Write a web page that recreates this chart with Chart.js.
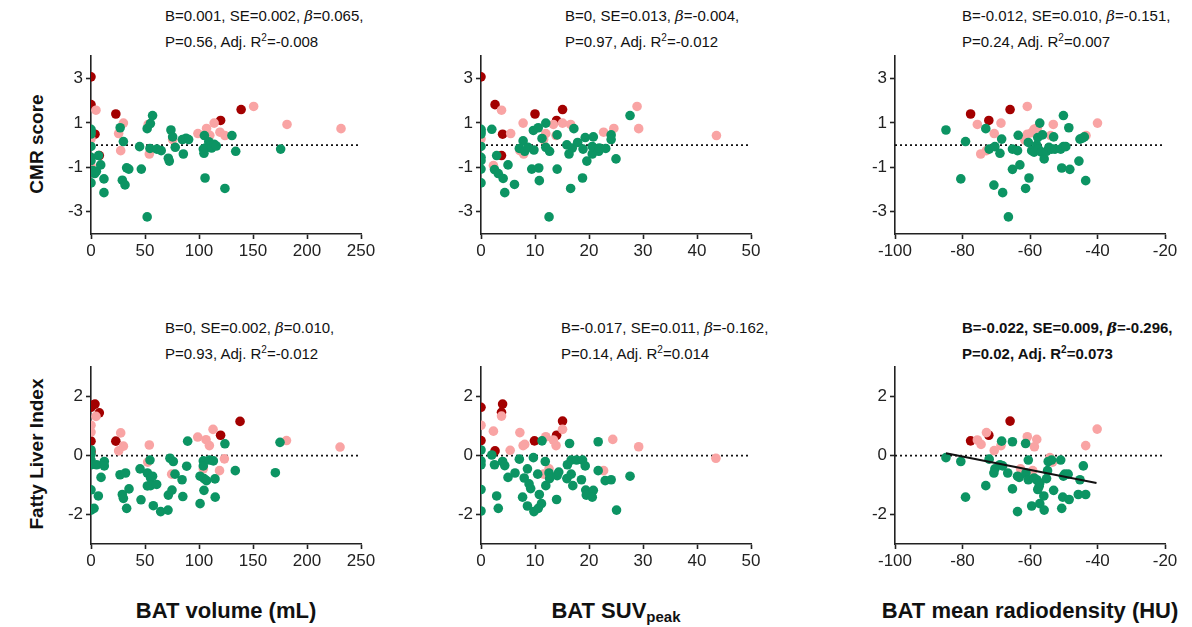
<!DOCTYPE html>
<html>
<head>
<meta charset="utf-8">
<script src="https://cdn.jsdelivr.net/npm/chart.js@4/dist/chart.umd.min.js"></script>
<style>
  body{margin:0;background:#fff;width:1192px;height:627px;position:relative;overflow:hidden;font-family:Arial,"Liberation Sans",sans-serif;color:#111;}
  canvas{position:absolute;}
  .note{position:absolute;font-size:15px;line-height:25px;white-space:nowrap;}
  .note.bold{font-weight:bold;}
  .note i{font-family:"DejaVu Serif",serif;font-style:italic;}
  .note sup{font-size:10px;line-height:0;vertical-align:6px;}
  .ytitle{position:absolute;font-weight:bold;font-size:19px;white-space:nowrap;transform:translate(-50%,-50%) rotate(-90deg);}
  .xtitle{position:absolute;font-weight:bold;font-size:22px;white-space:nowrap;transform:translate(-50%,-50%);}
  .xtitle sub{font-size:15px;vertical-align:-4px;line-height:0;}
</style>
</head>
<body>
<div class="note" style="left:165px;top:3px;">B=0.001, SE=0.002, <i>β</i>=0.065,<br>P=0.56, Adj. R<sup>2</sup>=-0.008</div>
<div class="note" style="left:565px;top:3px;">B=0, SE=0.013, <i>β</i>=-0.004,<br>P=0.97, Adj. R<sup>2</sup>=-0.012</div>
<div class="note" style="left:962px;top:3px;">B=-0.012, SE=0.010, <i>β</i>=-0.151,<br>P=0.24, Adj. R<sup>2</sup>=0.007</div>
<div class="note" style="left:165px;top:315px;">B=0, SE=0.002, <i>β</i>=0.010,<br>P=0.93, Adj. R<sup>2</sup>=-0.012</div>
<div class="note" style="left:561px;top:315px;">B=-0.017, SE=0.011, <i>β</i>=-0.162,<br>P=0.14, Adj. R<sup>2</sup>=0.014</div>
<div class="note bold" style="left:962px;top:315px;">B=-0.022, SE=0.009, <i>β</i>=-0.296,<br>P=0.02, Adj. R<sup>2</sup>=0.073</div>

<div class="ytitle" style="left:37px;top:144px;">CMR score</div>
<div class="ytitle" style="left:37px;top:454px;">Fatty Liver Index</div>
<div class="xtitle" style="left:226px;top:611px;">BAT volume (mL)</div>
<div class="xtitle" style="left:616px;top:611px;">BAT SUV<sub>peak</sub></div>
<div class="xtitle" style="left:1030px;top:611px;">BAT mean radiodensity (HU)</div>

<canvas id="c1" width="350" height="226" style="left:31px;top:43px;"></canvas>
<canvas id="c2" width="350" height="226" style="left:421px;top:43px;"></canvas>
<canvas id="c3" width="350" height="226" style="left:835px;top:43px;"></canvas>
<canvas id="c4" width="350" height="225" style="left:31px;top:354px;"></canvas>
<canvas id="c5" width="350" height="225" style="left:421px;top:354px;"></canvas>
<canvas id="c6" width="350" height="225" style="left:835px;top:354px;"></canvas>

<script>
// colours of the three groups
const GREEN = '#0c9463', PINK = '#f9a4a4', DARKRED = '#a30000';

// axis ranges and ticks
const volTicks = [0, 50, 100, 150, 200, 250];
const suvTicks = [0, 10, 20, 30, 40, 50];
const huTicks = [-100, -80, -60, -40, -20];
const cmrTicks = [-3, -1, 1, 3];
const cmrRange = [-4, 4];
const fliTicks = [-2, 0, 2];
const fliRange = [-3, 3];

// === CMR score vs BAT volume ===
const cmrVolDark = [[0,3.07],[0,1.82],[3.7,0.49],[7.7,-0.47],[23,1.4],[120,1.11],[139,1.6]];
const cmrVolPink = [[4.6,1.57],[0,0.27],[0,-0.92],[25.6,0.52],[27.5,-0.25],[30,0.99],[53,0.93],[54,-0.4],[75.6,0.25],[99,0.52],[107,0.75],[110,0.44],[114,0.99],[119.4,0.58],[124,0.43],[150.6,1.74],[181.5,0.93],[231.5,0.74]];
const cmrVolGreen = [[0,0.71],[0,0.6],[0,0.5],[0,-0.06],[0,-0.55],[0,-0.7],[1.5,-1.14],[3.4,-1.28],[5,-1.18],[7,-0.47],[0,-1.7],[9,-0.89],[12,-1.52],[12,-2.14],[27,0.78],[30,0.16],[29,-1.58],[31.5,-1.79],[33,-1.02],[35,-1.08],[45,-0.07],[46.6,-1.08],[52,0.74],[55,0.97],[57,1.33],[52,-3.23],[54.6,-0.15],[61,-0.18],[65,-0.25],[71.6,-0.59],[72.5,-0.72],[74,0.68],[75.6,0.37],[78,-0.1],[85.5,-0.4],[84.6,0.25],[88,0.31],[90.4,0.25],[105,0.43],[104,-0.18],[104.6,-0.37],[105.6,-1.48],[106,-0.13],[109,0.15],[111.7,-0.13],[114,0.04],[116,-0.04],[124,-1.95],[130.5,0.43],[134,-0.28],[175.6,-0.18]];

// === CMR score vs BAT SUVpeak ===
const cmrSuvDark = [[0,3.07],[2.6,1.82],[4.0,0.49],[3.8,-0.47],[10,1.4],[14,1.11],[15.1,1.6]];
const cmrSuvPink = [[3.8,1.57],[0,0.27],[2.3,-0.92],[5.5,0.52],[7.8,0.99],[7.9,-0.4],[7.2,-0.25],[12,0.52],[11.6,0.25],[13.4,0.93],[15.1,0.99],[16.6,0.93],[13.9,0.43],[22.7,0.58],[24.6,0.75],[28.9,1.74],[29.2,0.74],[43.6,0.43]];
const cmrSuvGreen = [[0,0.71],[0,0.6],[0,0.5],[0,-0.06],[0,-0.55],[0,-0.7],[0,-1.08],[0,-1.7],[2,0.71],[2.9,-0.47],[2.5,-1.1],[3.2,-1.28],[4.1,-1.5],[4.4,-2.14],[5.0,-0.89],[6.2,-1.77],[7.1,-0.15],[7.8,0.19],[8.1,-0.28],[8.7,-0.1],[9.4,-1.08],[9.7,0.66],[9.8,-0.22],[10.6,0.78],[10.7,-1.03],[10.8,-1.6],[11.3,0.3],[12,0.99],[12,-0.1],[12.7,-0.28],[12.6,-3.23],[14.1,0.46],[14.1,-1.08],[15.9,0.01],[16.3,-0.4],[16.6,-1.95],[16.9,-0.13],[17.2,0.74],[17.9,0.12],[18.8,-1.48],[18.9,-0.18],[19.3,0.34],[19.6,-0.72],[20.6,-0.4],[20.8,0.37],[20.6,-0.06],[21.8,-0.28],[21.9,-0.13],[23.1,-0.15],[24.1,0.46],[24.1,0.25],[25,-0.62],[27.6,1.33]];

// === CMR score vs BAT radiodensity ===
const cmrHuDark = [[-77.6,1.4],[-72.2,1.11],[-65.9,1.6]];
const cmrHuPink = [[-75.6,0.93],[-74.6,-0.4],[-72.9,-0.25],[-70.6,0.52],[-68.6,0.99],[-61.5,0.22],[-60.8,0.49],[-60.8,1.74],[-59.5,0.56],[-58.8,0.71],[-57.8,0.78],[-53.9,0.43],[-53.1,0.93],[-43.4,0.43],[-40,0.99]];
const cmrHuGreen = [[-84.9,0.68],[-79.1,0.16],[-80.5,-1.52],[-73.1,0.74],[-72.1,-0.18],[-70.4,-0.07],[-70.7,-1.8],[-68.9,-0.37],[-68.4,0.27],[-68.1,-2.14],[-66.4,-3.23],[-65.2,-1.09],[-65.2,-0.18],[-63.7,-0.25],[-63.5,0.44],[-63,-0.89],[-61.3,-1.95],[-60.5,0.12],[-60.3,-1.48],[-59.5,-0.25],[-58.8,-0.32],[-58,0],[-57.7,0.34],[-57.5,-0.18],[-57.1,0.99],[-56.6,-0.32],[-56.3,0.46],[-55.8,-0.62],[-55.1,-0.28],[-54.4,-0.1],[-53.6,-0.18],[-53,0.37],[-52.6,-0.18],[-50.9,-0.18],[-50.6,-1.03],[-50.1,1.33],[-50.1,-0.07],[-49.4,-0.07],[-48.5,0.78],[-48.2,-1.09],[-45.5,-0.72],[-45.2,0.27],[-44.5,0.31],[-43.9,0.37],[-43.5,-1.6]];

// === Fatty Liver Index vs BAT volume ===
const fliVolDark = [[0,1.64],[2.2,1.72],[3.7,1.75],[7.7,1.45],[0,0.49],[0,0.13],[23,0.49],[120,0.69],[138,1.16]];
const fliVolPink = [[0,1.03],[0,0.8],[4.6,1.33],[27.5,0.77],[30,0.32],[25.6,0.16],[54,0.36],[52.5,-0.22],[74.7,-0.63],[98.8,0.63],[104,-0.45],[106.5,0.54],[109.6,0.34],[113,0.89],[119,-0.51],[123.5,-0.11],[181,0.51],[230.6,0.29]];
const fliVolGreen = [[0,0.19],[0,0.04],[0,-0.15],[0,-0.31],[0,-1.16],[0,-1.85],[2.8,-1.79],[5.2,-0.31],[6.8,-1.37],[9.3,-0.74],[12.3,-0.2],[12.3,-0.35],[26.9,-0.65],[29,-1.32],[30,-1.45],[32,-0.59],[33,-1.79],[35.2,-1.13],[45.4,-0.45],[46.3,-1.5],[52.2,-0.59],[52.2,-1.03],[54.6,-0.15],[55.2,-0.76],[55.2,-1.02],[57,-0.7],[57.7,-1.7],[60.8,-0.98],[64.5,-1.9],[71.3,-1.85],[71.6,-1.34],[73.1,-0.09],[75,-1.17],[76.2,-0.2],[77.8,-0.63],[84.3,-0.82],[85,-1.39],[88.6,-0.36],[89.5,0.49],[101,-1.63],[101,-0.7],[104,-0.18],[104,-0.35],[104.6,-0.78],[104.6,-1.18],[107,-0.85],[109.6,-0.15],[113.3,-0.18],[114.8,-0.79],[115,-1.41],[124,0.4],[133.6,-0.51],[170.7,-0.58],[175,0.45]];

// === Fatty Liver Index vs BAT SUVpeak ===
const fliSuvDark = [[0,1.64],[0,0.51],[4.0,1.75],[3.8,1.47],[2.6,0.16],[9.9,0.5],[14,0.69],[15.1,1.17]];
const fliSuvPink = [[0,1.03],[2.3,0.83],[3.8,1.34],[5.4,0.18],[7.2,0.78],[7.8,0.34],[8.1,0.38],[12,0.64],[11.6,-0.63],[12.6,-0.45],[13.4,0.53],[13.9,0.34],[15.1,0.89],[22.7,-0.51],[24.4,0.55],[29.2,0.3],[43.5,-0.09]];
const fliSuvGreen = [[0,0.19],[0,-0.18],[0,-0.31],[0,-1.15],[0,-1.88],[2,0.02],[2.5,-0.31],[2.9,-1.37],[3.2,-1.79],[4,-0.2],[4.4,-0.34],[5,-0.74],[6.3,-0.59],[7.1,-0.12],[7.7,-1.41],[8,-0.76],[8.6,-0.45],[8.6,-1.71],[8.9,-0.96],[9.2,-1.12],[9.7,-0.07],[9.8,-1.9],[10.5,-0.63],[10.6,-1.79],[10.8,-1.32],[11.2,-1.63],[11.3,0.5],[11.9,-0.2],[12,-1.02],[12.6,-0.59],[12.7,-0.78],[14,-1.49],[14.1,-0.68],[14.4,-0.56],[16,-0.31],[15.9,-0.78],[16.4,0.41],[16.7,-0.15],[16.7,-0.63],[17,-1.02],[17.7,-0.15],[18.6,-0.82],[18.8,-0.15],[19.3,-0.35],[19.4,-1.17],[19.5,-1.34],[20.8,-1.18],[20.6,-1.41],[21.7,-0.51],[21.7,0.47],[23,-0.85],[24.1,-0.82],[25.1,-1.85],[27.6,-0.7]];

// === Fatty Liver Index vs BAT radiodensity ===
const fliHuDark = [[-77.6,0.5],[-72.2,0.69],[-65.9,1.17]];
const fliHuPink = [[-75.6,0.53],[-74.5,0.38],[-72.9,0.78],[-70.6,0.17],[-68.6,0.34],[-62.8,-0.45],[-60.8,0.64],[-59.2,-0.51],[-58.7,0.3],[-58,0.55],[-54.1,-0.07],[-53.3,-0.22],[-43.5,0.34],[-40.1,0.9]];
const fliHuGreen = [[-84.9,-0.07],[-80.5,-0.2],[-79.1,-1.41],[-73.1,-1.02],[-72.1,-0.12],[-70.4,-0.45],[-70.7,-0.59],[-68.9,-0.31],[-68.4,0.49],[-68.1,-0.35],[-66.6,-0.59],[-65.2,0.47],[-65.2,-1.13],[-63.7,-0.7],[-63.7,-1.9],[-63.2,-0.74],[-61.3,0.41],[-61.2,-0.59],[-60.5,-0.15],[-60.5,-0.82],[-59.5,-1.71],[-58.8,-0.76],[-58,-0.82],[-57.7,-1.15],[-57.3,-1.04],[-57.1,-1.63],[-57.1,-0.93],[-55.9,-1.37],[-55.8,-1.85],[-55.1,-0.78],[-54.8,-0.51],[-54.6,-0.2],[-53.6,-0.15],[-53,-1.18],[-50.9,-0.15],[-50.6,-1.79],[-50.3,-1.41],[-50.1,-0.7],[-49.7,-0.63],[-48.7,-0.63],[-48.4,-1.49],[-45.7,-1.32],[-45.2,-0.82],[-44.2,-0.35],[-43.5,-1.32]];

// fitted line, only significant panel
const fliHuFitX = [-84.9, -40.3];
const fliHuFitY = [0.08, -0.93];

const toPts = arr => arr.map(p => ({x: p[0], y: p[1]}));

function makePanel(id, xTicks, yTicks, yRange, dark, pink, green, fit){
  const xMin = xTicks[0], xMax = xTicks[xTicks.length-1];
  const pt = (data, color) => ({type:'scatter', data: toPts(data), backgroundColor: color, borderWidth: 0, pointRadius: 4.8, pointHoverRadius: 4.8});
  const datasets = [];
  if(fit){
    datasets.push({type:'line', data: fit[0].map((x,i)=>({x, y: fit[1][i]})), borderColor:'#111', borderWidth:2, pointRadius:0, fill:false});
  }
  datasets.push(pt(green, GREEN));
  datasets.push(pt(pink, PINK));
  datasets.push(pt(dark, DARKRED));
  // dotted zero reference line
  datasets.push({type:'line', data:[{x:xMin,y:0},{x:xMax,y:0}], borderColor:'#111', borderWidth:1.6, borderDash:[2,3], pointRadius:0, fill:false});

  const axisCommon = {
    border:{display:true, color:'#222', width:1.6},
    grid:{display:true, drawOnChartArea:false, drawTicks:true, tickLength:5, tickColor:'#222', tickWidth:1.6},
  };
  new Chart(document.getElementById(id), {
    type:'scatter',
    data:{datasets},
    options:{
      responsive:false,
      animation:false,
      devicePixelRatio:1,
      layout:{padding:{top:10, right:20, bottom:0, left:0}, autoPadding:false},
      plugins:{legend:{display:false}, tooltip:{enabled:false}},
      scales:{
        x:{
          type:'linear', min:xMin, max:xMax, ...axisCommon,
          ticks:{color:'#222', font:{family:'Arial, "Liberation Sans"', size:17}, padding:2, maxRotation:0},
          afterBuildTicks: s => { s.ticks = xTicks.map(v=>({value:v})); },
          afterFit: s => { s.height = 35; }
        },
        y:{
          type:'linear', min:yRange[0], max:yRange[1], ...axisCommon,
          ticks:{color:'#222', font:{family:'Arial, "Liberation Sans"', size:17}, padding:3},
          afterBuildTicks: s => { s.ticks = yTicks.map(v=>({value:v})); },
          afterFit: s => { s.width = 60; }
        }
      }
    }
  });
}

makePanel('c1', volTicks, cmrTicks, cmrRange, cmrVolDark, cmrVolPink, cmrVolGreen);
makePanel('c2', suvTicks, cmrTicks, cmrRange, cmrSuvDark, cmrSuvPink, cmrSuvGreen);
makePanel('c3', huTicks, cmrTicks, cmrRange, cmrHuDark, cmrHuPink, cmrHuGreen);
makePanel('c4', volTicks, fliTicks, fliRange, fliVolDark, fliVolPink, fliVolGreen);
makePanel('c5', suvTicks, fliTicks, fliRange, fliSuvDark, fliSuvPink, fliSuvGreen);
makePanel('c6', huTicks, fliTicks, fliRange, fliHuDark, fliHuPink, fliHuGreen, [fliHuFitX, fliHuFitY]);
</script>
</body>
</html>
